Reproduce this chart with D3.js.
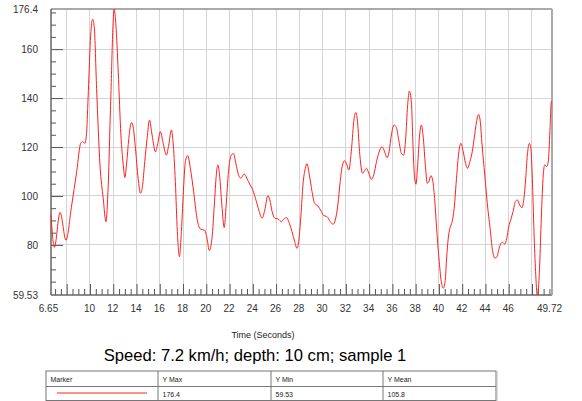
<!DOCTYPE html>
<html>
<head>
<meta charset="utf-8">
<script src="https://d3js.org/d3.v7.min.js"></script>
<style>
  body { margin: 0; background: #fff; }
  svg { font-family: "Liberation Sans", Arial, sans-serif; }
  .axis path.domain { display: none; }
  .axis line { stroke: #555; }
  .axis text { fill: #333; font-size: 10px; }
</style>
</head>
<body>
<svg id="chart" width="582" height="401"></svg>
<script>
// time (s) and value
const times = [6.65, 6.94, 7.43, 7.94, 8.43, 8.86, 9.2, 9.37, 9.57, 9.71, 9.86, 10.06, 10.23, 10.37, 10.57, 10.86,
  11.14, 11.37, 11.57, 11.77, 12.08, 12.23, 12.43, 12.66, 12.86, 13.0, 13.14, 13.34, 13.57, 13.71, 13.91, 14.14,
  14.34, 14.51, 14.71, 14.91, 15.12, 15.34, 15.63, 15.8, 16.06, 16.26, 16.57, 16.77, 17.0, 17.14, 17.34, 17.51,
  17.69, 17.86, 18.06, 18.2, 18.4, 18.63, 18.91, 19.2, 19.49, 19.86, 20.06, 20.26, 20.49, 20.69, 20.86, 21.0,
  21.14, 21.34, 21.54, 21.71, 21.91, 22.11, 22.34, 22.54, 22.77, 22.97, 23.26, 23.49, 23.77, 23.94, 24.23, 24.51,
  24.8, 25.03, 25.29, 25.46, 25.66, 25.89, 26.17, 26.46, 26.66, 26.89, 27.14, 27.37, 27.6, 27.8, 27.94, 28.14,
  28.31, 28.51, 28.66, 28.86, 29.09, 29.31, 29.6, 29.89, 30.09, 30.37, 30.66, 30.89, 31.09, 31.31, 31.51, 31.71,
  31.89, 32.09, 32.25, 32.49, 32.69, 32.86, 33.0, 33.2, 33.43, 33.57, 33.77, 33.97, 34.2, 34.4, 34.63, 34.86,
  35.11, 35.34, 35.54, 35.71, 35.91, 36.14, 36.34, 36.57, 36.77, 36.97, 37.14, 37.31, 37.46, 37.63, 37.77, 37.91,
  38.03, 38.17, 38.34, 38.49, 38.66, 38.83, 39.0, 39.14, 39.31, 39.46, 39.63, 39.8, 40.0, 40.2, 40.37, 40.54,
  40.66, 40.8, 40.94, 41.14, 41.31, 41.51, 41.71, 41.89, 42.09, 42.29, 42.46, 42.66, 42.86, 43.03, 43.23, 43.4,
  43.54, 43.71, 43.94, 44.17, 44.4, 44.6, 44.8, 45.0, 45.14, 45.29, 45.46, 45.66, 45.83, 46.0, 46.17, 46.37,
  46.57, 46.74, 46.94, 47.14, 47.31, 47.46, 47.6, 47.77, 47.89, 48.03, 48.17, 48.31, 48.45, 48.55, 48.66, 48.8,
  48.97, 49.09, 49.26, 49.4, 49.54, 49.66, 49.72];
const values = [92, 79, 93.3, 81.9, 96.3, 110, 121.5, 122.2, 121.5, 126, 142.6, 165.7, 172.2, 169, 144, 112.7,
  99, 89.5, 104.5, 137, 176.4, 169.8, 150.7, 124.9, 112.7, 107.5, 112.7, 123.5, 130, 128.3, 119.5, 107.2,
  101.1, 103.8, 114, 123.5, 131, 124.9, 118, 120.8, 126.3, 122.2, 116.7, 120.8, 127, 122.2, 105.9, 85.4,
  75.2, 85.4, 104.5, 114, 116.5, 111.3, 101.9, 90.9, 86.5, 86, 82.7, 77.7, 82.7, 96.3, 108.6, 112.7,
  108.6, 96.3, 87.1, 96.3, 110, 116.3, 117.4, 113.3, 108.6, 107.2, 109, 107.2, 104.5, 103.1, 99, 94.3,
  90.9, 94.3, 100.1, 98.4, 93.6, 90.9, 90.6, 89.5, 90.5, 91.2, 88.8, 85.4, 81.4, 78.6, 81.4, 92.2,
  104.5, 111.3, 113.2, 108.6, 101.8, 97, 95.9, 93.6, 92, 91.6, 89.5, 88.4, 90.2, 96.3, 105.9, 112.7,
  114.4, 112.7, 110.6, 119.5, 131, 134.1, 130.3, 116.7, 109.3, 110, 111.3, 109.3, 106.8, 108.6, 114, 118,
  120.1, 118, 115.6, 118, 124.9, 129, 127.9, 122.2, 117.4, 116.7, 123.5, 137.1, 142.9, 138.5, 120.8, 107.2,
  104.8, 112.7, 124.9, 129, 123.5, 112.7, 105.2, 105.9, 108.3, 106.5, 99, 86.8, 74.6, 65, 62.3, 65.5,
  74.6, 82.7, 86.8, 89.5, 95, 107.2, 118, 121.5, 118, 113.3, 111.3, 114, 118, 123.5, 130.3, 133.3,
  131, 120.8, 108.6, 96.3, 86.8, 78, 74.6, 75.2, 78, 80.3, 81.1, 80.3, 82.7, 87.5, 90.2, 93.6,
  97.7, 98.4, 96.3, 95.2, 99, 107.2, 116.7, 121.5, 120.1, 107.2, 85.4, 69.1, 59.53, 62, 71.8, 90.9,
  108.6, 112.7, 112, 114, 126.3, 138.5, 139];

const xMajorTicks = d3.range(8, 49, 2);
const xLabelTicks = d3.range(10, 47, 2);
const yMajorTicks = [80, 100, 120, 140, 160];

const chartTitle = "Speed: 7.2 km/h; depth: 10 cm; sample 1";
const xTitle = "Time (Seconds)";
const tableHeads = ["Marker", "Y Max", "Y Min", "Y Mean"];
const tableVals = ["176.4", "59.53", "105.8"];

const svg = d3.select("#chart");
const L = 51, R = 552, T = 9, B = 295;

const data = times.map((t, i) => ({ t: t, v: values[i] }));

const x = d3.scaleLinear().domain(d3.extent(times)).range([L, R]);
const y = d3.scaleLinear().domain(d3.extent(values)).range([B, T]);

// grid
const grid = svg.append("g").attr("stroke", "#d4d4d4").attr("shape-rendering", "crispEdges");
grid.selectAll(".vg").data(xMajorTicks).join("line")
  .attr("x1", d => x(d)).attr("x2", d => x(d)).attr("y1", T).attr("y2", B);
grid.selectAll(".hg").data(yMajorTicks).join("line")
  .attr("x1", L).attr("x2", R).attr("y1", d => y(d)).attr("y2", d => y(d));

// minor ticks
const xMinor = d3.range(7, 49.6, 0.5).filter(d => d % 2 !== 0);
const yMinor = d3.range(65, 176, 5).filter(d => d % 20 !== 0);

svg.append("g").attr("class", "axis").attr("transform", `translate(0,${B})`)
  .call(d3.axisBottom(x).tickValues(xMinor).tickSize(-6).tickFormat(""));
svg.append("g").attr("class", "axis").attr("transform", `translate(0,${B})`)
  .call(d3.axisBottom(x).tickValues(xMajorTicks).tickSize(-11).tickFormat(""));
svg.append("g").attr("class", "axis").attr("transform", `translate(-1,${B})`)
  .call(d3.axisBottom(x).tickValues(xLabelTicks).tickSize(0).tickPadding(10).tickFormat(d3.format("d")));
svg.append("g").attr("class", "axis").attr("transform", `translate(-3,${B})`)
  .call(d3.axisBottom(x).tickValues(x.domain()).tickSize(0).tickPadding(10).tickFormat(d => d));

svg.append("g").attr("class", "axis").attr("transform", `translate(${L},0)`)
  .call(d3.axisLeft(y).tickValues(yMinor).tickSize(-5).tickFormat(""));
svg.append("g").attr("class", "axis").attr("transform", `translate(${L},0)`)
  .call(d3.axisLeft(y).tickValues(yMajorTicks).tickSize(-12).tickPadding(13).tickFormat(d3.format("d")));
svg.append("g").attr("class", "axis").attr("transform", `translate(${L},0)`)
  .call(d3.axisLeft(y).tickValues(y.domain()).tickSize(0).tickPadding(13).tickFormat(d => d));

// frame
svg.append("line").attr("x1", L).attr("x2", R).attr("y1", T).attr("y2", T).attr("stroke", "#555");
svg.append("line").attr("x1", L).attr("x2", R).attr("y1", B).attr("y2", B).attr("stroke", "#666").attr("stroke-width", 1.5);
svg.append("line").attr("x1", L).attr("x2", L).attr("y1", T).attr("y2", B).attr("stroke", "#666").attr("stroke-width", 1.5);
svg.append("line").attr("x1", R).attr("x2", R).attr("y1", T).attr("y2", B).attr("stroke", "#aaa").attr("stroke-width", 2);

// trace
const line = d3.line().x(d => x(d.t)).y(d => y(d.v)).curve(d3.curveMonotoneX);
svg.append("path").datum(data)
  .attr("fill", "none").attr("stroke", "#ff2020").attr("stroke-width", 1)
  .attr("d", line);

// titles
svg.append("text").attr("x", 263).attr("y", 338).attr("text-anchor", "middle")
  .attr("font-size", 9).attr("fill", "#222").text(xTitle);
svg.append("text").attr("x", 255).attr("y", 361).attr("text-anchor", "middle")
  .attr("font-size", 16.6).attr("fill", "#000").text(chartTitle);

// stats table
const tx = [46, 158, 271, 383, 496];
const tb = svg.append("g");
tb.append("rect").attr("x", 46).attr("y", 371).attr("width", 450).attr("height", 29.5)
  .attr("fill", "none").attr("stroke", "#777");
tb.append("line").attr("x1", 497).attr("x2", 497).attr("y1", 371).attr("y2", 401).attr("stroke", "#bbb");
tb.append("line").attr("x1", 46).attr("x2", 496).attr("y1", 386.5).attr("y2", 386.5).attr("stroke", "#777");
tb.selectAll(".cs").data(tx.slice(1, 4)).join("line")
  .attr("x1", d => d).attr("x2", d => d).attr("y1", 371).attr("y2", 400).attr("stroke", "#777");
tb.selectAll(".hd").data(tableHeads).join("text")
  .attr("x", (d, i) => tx[i] + 4.5).attr("y", 382).attr("font-size", 7).attr("fill", "#222").text(d => d);
tb.selectAll(".vl").data(tableVals).join("text")
  .attr("x", (d, i) => tx[i + 1] + 4.5).attr("y", 396.5).attr("font-size", 7).attr("fill", "#222").text(d => d);
tb.append("line").attr("x1", 57).attr("x2", 147).attr("y1", 393).attr("y2", 393)
  .attr("stroke", "#ff2020").attr("stroke-width", 1);
</script>
</body>
</html>
